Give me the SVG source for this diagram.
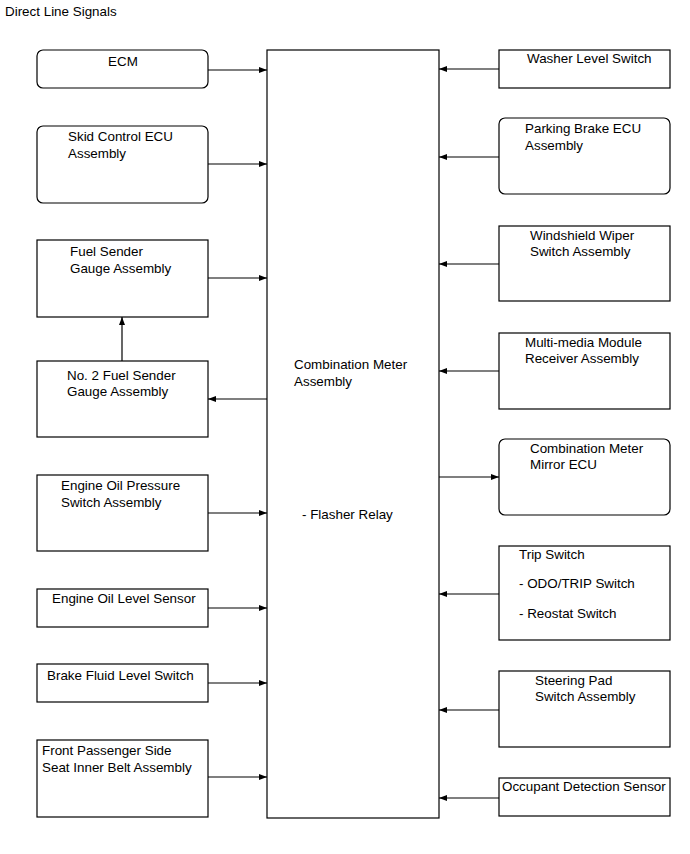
<svg xmlns="http://www.w3.org/2000/svg" width="690" height="854" viewBox="0 0 690 854">
<style>
.b{fill:#fff;stroke:#000;stroke-width:1.2}
.t{font-family:"Liberation Sans",Arial,sans-serif;font-size:13.4px;fill:#000}
.c{stroke:#000;stroke-width:1.2;fill:none;marker-end:url(#a)}
</style>
<defs>
<marker id="a" viewBox="0 0 8 6" refX="8" refY="3" markerWidth="8" markerHeight="6" markerUnits="userSpaceOnUse" orient="auto">
<path d="M0,0 L8,3 L0,6 Z" fill="#000"/>
</marker>
</defs>
<rect width="690" height="854" fill="#fff"/>
<text class="t" x="5" y="16">Direct Line Signals</text>
<g id="meter">
<rect class="b" x="267" y="50" width="172" height="768"/>
<text class="t" x="294" y="369">Combination Meter</text>
<text class="t" x="294" y="386">Assembly</text>
<text class="t" x="302" y="519">- Flasher Relay</text>
</g>
<g id="ecm"><rect class="b" x="37" y="50" width="171" height="38" rx="6"/><text class="t" x="123" y="66" text-anchor="middle">ECM</text></g>
<g id="skid"><rect class="b" x="37" y="126" width="171" height="77" rx="6"/><text class="t" x="68" y="141">Skid Control ECU</text><text class="t" x="68" y="158">Assembly</text></g>
<g id="fuel"><rect class="b" x="37" y="240" width="171" height="77"/><text class="t" x="70" y="256">Fuel Sender</text><text class="t" x="70" y="273">Gauge Assembly</text></g>
<g id="fuel2"><rect class="b" x="37" y="361" width="171" height="76"/><text class="t" x="67" y="380">No. 2 Fuel Sender</text><text class="t" x="67" y="396">Gauge Assembly</text></g>
<g id="oilpress"><rect class="b" x="37" y="475" width="171" height="76"/><text class="t" x="61" y="490">Engine Oil Pressure</text><text class="t" x="61" y="507">Switch Assembly</text></g>
<g id="oillevel"><rect class="b" x="37" y="589" width="171" height="38"/><text class="t" x="52" y="603">Engine Oil Level Sensor</text></g>
<g id="brake"><rect class="b" x="37" y="664" width="171" height="38"/><text class="t" x="47" y="680">Brake Fluid Level Switch</text></g>
<g id="belt"><rect class="b" x="37" y="740" width="171" height="77"/><text class="t" x="42" y="755">Front Passenger Side</text><text class="t" x="42" y="772">Seat Inner Belt Assembly</text></g>
<g id="washer"><rect class="b" x="499" y="50" width="171" height="38"/><text class="t" x="527" y="63">Washer Level Switch</text></g>
<g id="parking"><rect class="b" x="499" y="118" width="171" height="76" rx="6"/><text class="t" x="525" y="133">Parking Brake ECU</text><text class="t" x="525" y="150">Assembly</text></g>
<g id="wiper"><rect class="b" x="499" y="226" width="171" height="75"/><text class="t" x="530" y="240">Windshield Wiper</text><text class="t" x="530" y="256">Switch Assembly</text></g>
<g id="media"><rect class="b" x="499" y="333" width="171" height="76"/><text class="t" x="525" y="347">Multi-media Module</text><text class="t" x="525" y="363">Receiver Assembly</text></g>
<g id="mirror"><rect class="b" x="499" y="439" width="171" height="76" rx="6"/><text class="t" x="530" y="453">Combination Meter</text><text class="t" x="530" y="469">Mirror ECU</text></g>
<g id="trip"><rect class="b" x="499" y="546" width="171" height="94"/><text class="t" x="519" y="559">Trip Switch</text><text class="t" x="519" y="588">- ODO/TRIP Switch</text><text class="t" x="519" y="618">- Reostat Switch</text></g>
<g id="steer"><rect class="b" x="499" y="671" width="171" height="76"/><text class="t" x="535" y="685">Steering Pad</text><text class="t" x="535" y="701">Switch Assembly</text></g>
<g id="occupant"><rect class="b" x="499" y="778" width="171" height="38"/><text class="t" x="502" y="791">Occupant Detection Sensor</text></g>
<g id="connectors">
<line class="c" x1="208" y1="70" x2="267" y2="70"/>
<line class="c" x1="208" y1="164" x2="267" y2="164"/>
<line class="c" x1="208" y1="278" x2="267" y2="278"/>
<line class="c" x1="122" y1="361" x2="122" y2="317"/>
<line class="c" x1="267" y1="399" x2="208" y2="399"/>
<line class="c" x1="208" y1="513" x2="267" y2="513"/>
<line class="c" x1="208" y1="608" x2="267" y2="608"/>
<line class="c" x1="208" y1="683" x2="267" y2="683"/>
<line class="c" x1="208" y1="777" x2="267" y2="777"/>
<line class="c" x1="499" y1="69" x2="439" y2="69"/>
<line class="c" x1="499" y1="157" x2="439" y2="157"/>
<line class="c" x1="499" y1="264" x2="439" y2="264"/>
<line class="c" x1="499" y1="371" x2="439" y2="371"/>
<line class="c" x1="439" y1="477" x2="499" y2="477"/>
<line class="c" x1="499" y1="594" x2="439" y2="594"/>
<line class="c" x1="499" y1="710" x2="439" y2="710"/>
<line class="c" x1="499" y1="798" x2="439" y2="798"/>
</g>
</svg>
